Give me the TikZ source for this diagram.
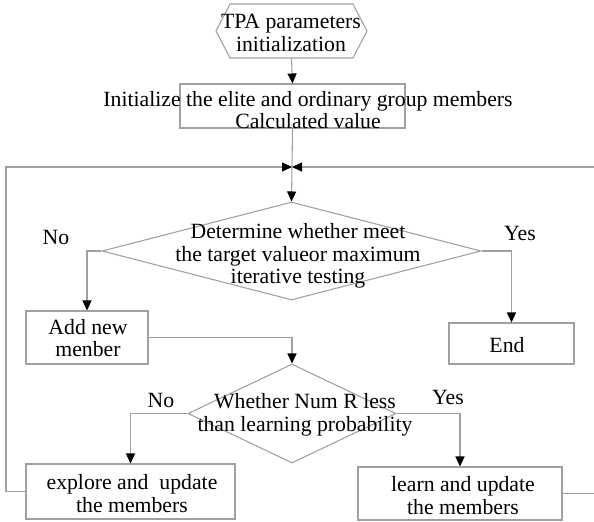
\documentclass[tikz,border=0pt]{standalone}
\usepackage{fontspec}
\setmainfont{Liberation Serif}
\usetikzlibrary{arrows.meta,shapes.geometric,shapes.symbols}

\definecolor{linegray}{RGB}{160,160,160}

\tikzset{
  box/.style={draw=linegray, line width=0.8pt, inner sep=0},
  dmd/.style={diamond, draw=linegray, line width=0.8pt, inner sep=0},
  hexa/.style={signal, signal to=west and east, signal pointer angle=125,
               draw=linegray, line width=0.8pt, inner sep=0},
  conn/.style={draw=linegray, line width=0.8pt},
  arr/.style={conn, -{Triangle[length=7.5pt,width=6.8pt,color=black]}},
  txt/.style={align=center, inner sep=0, font=\fontsize{16.3}{16.8}\selectfont},
}

\begin{document}
\begin{tikzpicture}[x=0.75pt,y=-0.75pt]
\useasboundingbox (0,0) rectangle (594,522);

%% shapes
\node[hexa, minimum width=113.25pt, minimum height=40.5pt] (init) at (291.5,31) {};   %% start
\node[box, minimum width=168.75pt, minimum height=33pt] (group) at (292.5,106) {};     %% init groups
\node[dmd, minimum width=284.25pt, minimum height=73.5pt] (check) at (291.5,251) {};   %% stop test
\node[box, minimum width=91.5pt, minimum height=39.75pt] (addm) at (87,337.5) {};      %% add member
\node[box, minimum width=93.75pt, minimum height=30.75pt] (finish) at (511.5,343.5) {};%% end
\node[dmd, minimum width=156pt, minimum height=74.25pt] (prob) at (292,413.5) {};      %% R test
\node[box, minimum width=156.75pt, minimum height=41.25pt] (explore) at (130.5,491.5) {};%% explore
\node[box, minimum width=153pt, minimum height=39.75pt] (learn) at (460,493.5) {};     %% learn

%% junction of the loop
\coordinate (join) at (292,167);
\coordinate (loopL) at (6,167);
\coordinate (loopR) at (600,167);

%% texts
\node[txt] (tInit) at (291,33) {TPA parameters\\initialization};
\node[txt] (tGroup) at (308,110) {Initialize the elite and ordinary group members\\Calculated value};
\node[txt] (tCheck) at (298,256) {Determine whether meet\\the target valueor maximum\\iterative testing};
\node[txt] (tAddm) at (88,338) {Add new\\menber};
\node[txt] (tFinish) at (507,345) {End};
\node[txt] (tProb) at (305,415) {Whether Num R less\\than learning probability};
\node[txt] (tExplore) at (132,493.5) {explore and~ update\\the members};
\node[txt] (tLearn) at (463,495.5) {learn and update\\the members};

%% branch labels
\node[txt] (no1) at (56,237) {No};
\node[txt] (yes1) at (520,233) {Yes};
\node[txt] (no2) at (161,400) {No};
\node[txt] (yes2) at (448,397) {Yes};

%% connectors
\draw[arr] (init.south) -- (group.north);
\draw[conn] (group.south) -- (join);
\draw[arr] (join) -- (check.north);
\draw[arr] (check.west) -| (addm.north);
\draw[arr] (check.east) -| (finish.north);
\draw[arr] (addm.east) -| (prob.north);
\draw[arr] (prob.west) -| (explore.north);
\draw[arr] (prob.east) -| (learn.north);
\draw[arr] (explore.west) -| (loopL) -- (join);
\draw[arr] (learn.east) -| (loopR) -- (join);

\end{tikzpicture}
\end{document}
